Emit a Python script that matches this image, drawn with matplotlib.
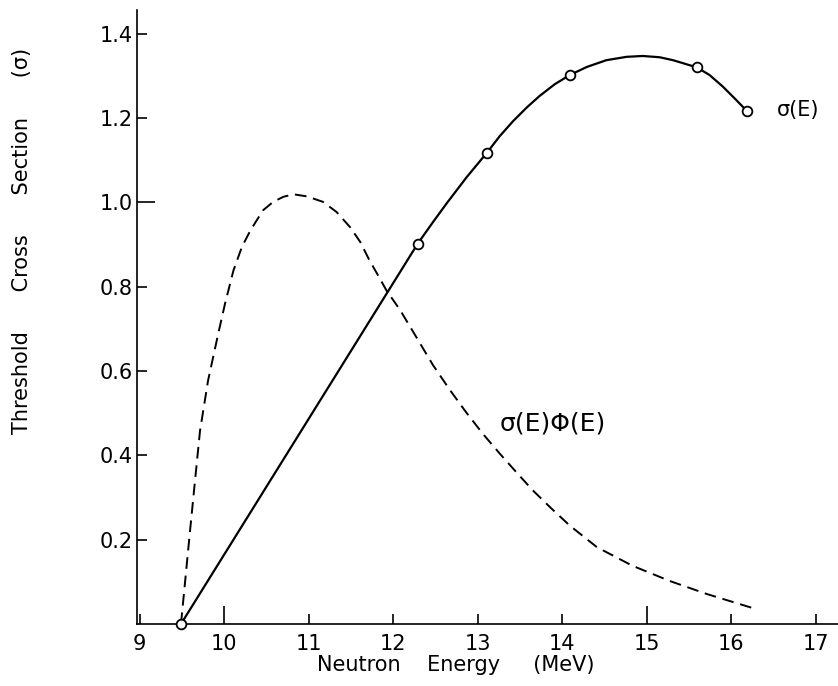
import matplotlib
matplotlib.use("Agg")
import matplotlib.pyplot as plt

# sigma(E): measured points (open circles)
cx = [9.49, 12.29, 13.11, 14.09, 15.59, 16.18]
cy = [0.0, 0.902, 1.118, 1.302, 1.320, 1.217]

# sigma(E) drawn curve
sx = [9.49, 12.29, 12.47, 12.63, 12.87, 13.11, 13.26, 13.42, 13.58, 13.73, 13.91,
      14.09, 14.29, 14.52, 14.76, 14.95, 15.15, 15.31, 15.59, 15.74, 15.90, 16.04, 16.18]
sy = [0.0, 0.902, 0.953, 0.997, 1.060, 1.118, 1.157, 1.193, 1.225, 1.252, 1.280,
      1.302, 1.321, 1.337, 1.345, 1.347, 1.344, 1.337, 1.320, 1.302, 1.274, 1.246, 1.217]

# sigma(E)*phi(E) dashed curve
dx = [9.49, 9.597, 9.656, 9.715, 9.81, 9.93, 10.01, 10.11, 10.21, 10.31, 10.46, 10.58,
      10.70, 10.82, 10.98, 11.17, 11.33, 11.49, 11.61, 11.72, 11.82, 11.92, 12.08,
      12.28, 12.47, 12.67, 12.87, 13.06, 13.26, 13.46, 13.65, 13.87, 14.09, 14.41,
      14.83, 15.27, 15.71, 16.28]
dy = [0.0, 0.221, 0.340, 0.458, 0.577, 0.688, 0.759, 0.838, 0.894, 0.933, 0.981, 1.001,
      1.013, 1.019, 1.014, 1.001, 0.977, 0.941, 0.906, 0.862, 0.827, 0.791, 0.745,
      0.678, 0.614, 0.555, 0.500, 0.451, 0.404, 0.359, 0.317, 0.274, 0.233, 0.182,
      0.138, 0.102, 0.071, 0.036]

xticks = [9, 10, 11, 12, 13, 14, 15, 16, 17]
yticks = [0.2, 0.4, 0.6, 0.8, 1.0, 1.2, 1.4]
ylabels = ["0.2", "0.4", "0.6", "0.8", "1.0", "1.2", "1.4"]

fig = plt.figure(figsize=(8.38, 6.86), dpi=100)
ax = fig.add_axes([0.1635, 0.0904, 0.8365, 0.895])

ax.plot(sx, sy, color="black", lw=1.6)
ax.plot(dx, dy, color="black", lw=1.4, dashes=(6, 3.5))
ax.plot(cx, cy, "o", ms=7, mfc="white", mec="black", mew=1.3, clip_on=False, zorder=5)

ax.text(16.54, 1.219, "σ(E)", fontsize=15, va="center", ha="left")
ax.text(13.26, 0.475, "σ(E)Φ(E)", fontsize=18, va="center", ha="left")

ax.set_xlim(8.97, 17.26)
ax.set_ylim(0, 1.456)
ax.spines["top"].set_visible(False)
ax.spines["right"].set_visible(False)
for s in ["left", "bottom"]:
    ax.spines[s].set_linewidth(1.2)

ax.set_xticks(xticks)
ax.set_xticklabels([str(t) for t in xticks])
ax.set_yticks(yticks)
ax.set_yticklabels(ylabels)
ax.tick_params(axis="x", direction="in", length=7, width=1.2, pad=7, labelsize=15)
ax.tick_params(axis="y", direction="in", length=7, width=1.2, pad=3, labelsize=15)
# longer ticks at 10, 15 and 1.0
for i, t in enumerate(ax.xaxis.get_major_ticks()):
    if xticks[i] in (10, 15):
        t.tick1line.set_markersize(13)
for i, t in enumerate(ax.yaxis.get_major_ticks()):
    if yticks[i] == 1.0:
        t.tick1line.set_markersize(13)

ax.set_xlabel("Neutron    Energy     (MeV)", fontsize=15)
ax.xaxis.set_label_coords(0.455, -0.05)
ax.set_ylabel("Threshold      Cross      Section      (σ)", fontsize=15)
ax.yaxis.set_label_coords(-0.15, 0.624)

fig.savefig("out.png", dpi=100)
